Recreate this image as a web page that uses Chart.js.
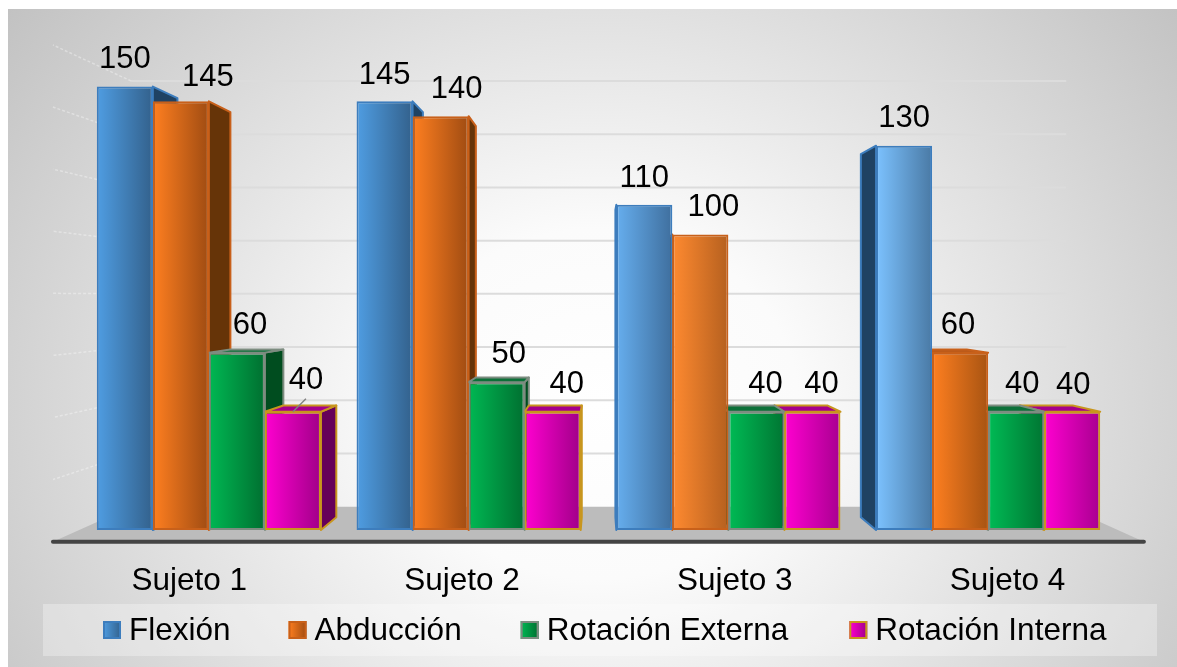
<!DOCTYPE html>
<html lang="es">
<head>
<meta charset="utf-8">
<title>Rango de movimiento por sujeto</title>
<style>
    html, body { margin: 0; padding: 0; background: #fff; }
    #panel {
        position: absolute; left: 8px; top: 9px; width: 1169px; height: 658px;
        background: radial-gradient(ellipse 800px 700px at 590px 395px, #ffffff 0%, #fbfbfb 25%, #bcbcbc 100%);
    }
    #chart { position: absolute; left: 0; top: 0; }
</style>
</head>
<body>
<div id="panel"></div>
<canvas id="chart" width="1177" height="667"></canvas>
<script src="https://cdn.jsdelivr.net/npm/chart.js@4/dist/chart.umd.min.js"></script>
<script>
const categories = ['Sujeto 1', 'Sujeto 2', 'Sujeto 3', 'Sujeto 4'];
const flexion = [150, 145, 110, 130];
const abduccion = [145, 140, 100, 60];
const rotacionExterna = [60, 50, 40, 40];
const rotacionInterna = [40, 40, 40, 40];

const FONT = '"Liberation Sans", Arial, sans-serif';
const GROUP_PCT = 0.863;

// Fake 3D: everything is pushed towards one vanishing point
const VANISH = { x: 600, y: 297 };
const DEPTH_BACK_WALL = 0.9;
const DEPTH_BAR_BACK = 0.945;
const DEPTH_FLOOR_FRONT = 1.05;

// Value labels don't sit centered on every bar, one nudge per series/subject
const labelNudgeX = [
    [0, 0, 0, 0],
    [27, 16, 13, -2],
    [13, 12, 9, 6],
    [13, 14, 9, 1],
];
const labelLift = [
    [27, 26, 26, 27],
    [24, 27, 27, 27],
    [27, 28, 27, 27],
    [31, 27, 27, 26],
];
const legendGaps = [58, 59, 61];

const faces = [
    {
        from: ['#4f9de2', '#4f9de2', '#66aeee', '#7cc2ff'],
        to: ['#33618c', '#33618c', '#3f6f9e', '#4a7aa5'],
        side: '#1f4263', top: '#2f6ea8', border: '#3d7dbd',
    },
    {
        from: ['#ff7f20', '#ff7f20', '#ff8a30', '#ff7f20'],
        to: ['#a04c12', '#a04c12', '#b5601f', '#a85412'],
        side: '#663408', top: '#b8591a', border: '#c8601a',
    },
    {
        from: ['#00b853', '#00b853', '#00bb55', '#00bb55'],
        to: ['#006f30', '#006f30', '#007532', '#007532'],
        side: '#004d1f', top: '#0c7038', border: '#7d8c80',
    },
    {
        from: ['#ff00d0', '#ff00d0', '#ff00d0', '#ff00d0'],
        to: ['#a00088', '#a00088', '#a80090', '#a80090'],
        side: '#660059', top: '#a5008c', border: '#c8961e',
    },
];

function project(x, y, f) {
    return { x: VANISH.x + (x - VANISH.x) * f, y: VANISH.y + (y - VANISH.y) * f };
}

function polygon(ctx, pts, fill, stroke) {
    ctx.beginPath();
    pts.forEach((p, i) => i ? ctx.lineTo(p.x, p.y) : ctx.moveTo(p.x, p.y));
    ctx.closePath();
    ctx.fillStyle = fill;
    ctx.fill();
    if (stroke) {
        ctx.strokeStyle = stroke;
        ctx.lineWidth = 2;
        ctx.lineJoin = 'round';
        ctx.stroke();
    }
}

function frontGradient(c) {
    if (c.type !== 'data') return '#888';
    const x = c.chart.scales.x;
    const pitch = x.getPixelForValue(1) - x.getPixelForValue(0);
    // options get resolved once before the first layout, no pixels yet
    if (!Number.isFinite(pitch)) return '#888';
    const w = pitch * GROUP_PCT / 4;
    const left = x.getPixelForValue(c.dataIndex) - pitch * GROUP_PCT / 2 + c.datasetIndex * w;
    const g = c.chart.ctx.createLinearGradient(left, 0, left + w, 0);
    g.addColorStop(0, faces[c.datasetIndex].from[c.dataIndex]);
    g.addColorStop(1, faces[c.datasetIndex].to[c.dataIndex]);
    return g;
}

const roomPlugin = {
    id: 'room',
    beforeDatasetsDraw(chart) {
        const { ctx, scales: { x, y } } = chart;
        const base = y.getPixelForValue(0);
        ctx.save();

        // back wall grid and the faint lines on the left wall
        y.ticks.forEach(t => {
            if (t.value === 0) return;
            const py = y.getPixelForValue(t.value);
            const a = project(x.left, py, DEPTH_BACK_WALL);
            const b = project(x.right, py, DEPTH_BACK_WALL);
            const c = project(x.left, py, DEPTH_FLOOR_FRONT);
            ctx.strokeStyle = '#dcdcdc';
            ctx.lineWidth = 2;
            ctx.beginPath();
            ctx.moveTo(a.x, a.y);
            ctx.lineTo(b.x, b.y);
            ctx.stroke();
            ctx.strokeStyle = 'rgba(255,255,255,0.35)';
            ctx.lineWidth = 1.5;
            ctx.setLineDash([3, 2]);
            ctx.beginPath();
            ctx.moveTo(a.x, a.y);
            ctx.lineTo(c.x, c.y);
            ctx.stroke();
            ctx.setLineDash([]);
        });

        // floor
        const fl = project(x.left, base, DEPTH_FLOOR_FRONT);
        const fr = project(x.right, base, DEPTH_FLOOR_FRONT);
        polygon(ctx, [
            project(x.left, base, DEPTH_BACK_WALL),
            project(x.right, base, DEPTH_BACK_WALL),
            fr, fl,
        ], '#bcbcbc');
        ctx.strokeStyle = '#444';
        ctx.lineWidth = 4;
        ctx.lineCap = 'round';
        ctx.beginPath();
        ctx.moveTo(fl.x, fl.y);
        ctx.lineTo(fr.x, fr.y);
        ctx.stroke();

        // bar sides and tops, farthest from the vanishing point first
        const bars = [];
        chart.data.datasets.forEach((ds, d) => {
            chart.getDatasetMeta(d).data.forEach(el => bars.push({ el, d }));
        });
        bars.sort((a, b) => Math.abs(b.el.x - VANISH.x) - Math.abs(a.el.x - VANISH.x));
        bars.forEach(({ el, d }) => {
            const style = faces[d];
            const left = el.x - el.width / 2;
            const right = el.x + el.width / 2;
            const edge = el.x < VANISH.x ? right : left;
            polygon(ctx, [
                { x: edge, y: el.y },
                project(edge, el.y, DEPTH_BAR_BACK),
                project(edge, el.base, DEPTH_BAR_BACK),
                { x: edge, y: el.base },
            ], style.side, style.border);
            if (el.y > VANISH.y) {
                polygon(ctx, [
                    { x: left, y: el.y },
                    project(left, el.y, DEPTH_BAR_BACK),
                    project(right, el.y, DEPTH_BAR_BACK),
                    { x: right, y: el.y },
                ], style.top, style.border);
            }
        });
        ctx.restore();
    },
    afterDatasetsDraw(chart) {
        const { ctx, scales: { x, y } } = chart;
        const base = y.getPixelForValue(0);
        ctx.save();
        ctx.fillStyle = '#000';
        ctx.textAlign = 'center';
        ctx.textBaseline = 'middle';

        // values above the bars
        ctx.font = '31px ' + FONT;
        chart.data.datasets.forEach((ds, d) => {
            chart.getDatasetMeta(d).data.forEach((el, i) => {
                ctx.fillText(ds.data[i], el.x + labelNudgeX[d][i], el.y - labelLift[d][i]);
            });
        });

        // leader line for the one label pushed off its bar
        const pulled = chart.getDatasetMeta(3).data[0];
        ctx.strokeStyle = '#808080';
        ctx.lineWidth = 1.5;
        ctx.beginPath();
        ctx.moveTo(pulled.x, pulled.y);
        ctx.lineTo(pulled.x + 13, pulled.y - 13);
        ctx.stroke();

        // category names follow the front edge of the floor
        ctx.font = '31.5px ' + FONT;
        categories.forEach((name, i) => {
            const p = project(x.getPixelForValue(i), base, DEPTH_FLOOR_FRONT);
            ctx.fillText(name, p.x, 581);
        });

        // legend strip
        ctx.fillStyle = 'rgba(255,255,255,0.3)';
        ctx.fillRect(43, 604, 1114, 52);
        ctx.font = '31.5px ' + FONT;
        ctx.textAlign = 'left';
        let cursor = 103;
        chart.data.datasets.forEach((ds, d) => {
            const g = ctx.createLinearGradient(cursor, 0, cursor + 18, 0);
            g.addColorStop(0, faces[d].from[0]);
            g.addColorStop(1, faces[d].to[0]);
            ctx.fillStyle = g;
            ctx.fillRect(cursor, 621, 18, 18);
            ctx.strokeStyle = faces[d].border;
            ctx.lineWidth = 2;
            ctx.strokeRect(cursor + 1, 622, 16, 16);
            ctx.fillStyle = '#000';
            ctx.fillText(ds.label, cursor + 26, 631);
            cursor += 26 + ctx.measureText(ds.label).width + (legendGaps[d] || 0);
        });
        ctx.restore();
    },
};

const seriesNames = ['Flexión', 'Abducción', 'Rotación Externa', 'Rotación Interna'];
const seriesValues = [flexion, abduccion, rotacionExterna, rotacionInterna];

new Chart(document.getElementById('chart'), {
    type: 'bar',
    data: {
        labels: categories,
        datasets: seriesNames.map((label, d) => ({
            label,
            data: seriesValues[d],
            backgroundColor: frontGradient,
            borderColor: faces[d].border,
            borderWidth: 2,
            borderSkipped: false,
            categoryPercentage: GROUP_PCT,
            barPercentage: 1,
        })),
    },
    options: {
        responsive: false,
        animation: false,
        layout: { padding: { left: 79, right: 59, top: 57, bottom: 137 } },
        scales: {
            x: { display: false },
            y: { display: false, min: 0, max: 160, ticks: { stepSize: 20 } },
        },
        plugins: { legend: { display: false }, tooltip: { enabled: false } },
    },
    plugins: [roomPlugin],
});
</script>
</body>
</html>
